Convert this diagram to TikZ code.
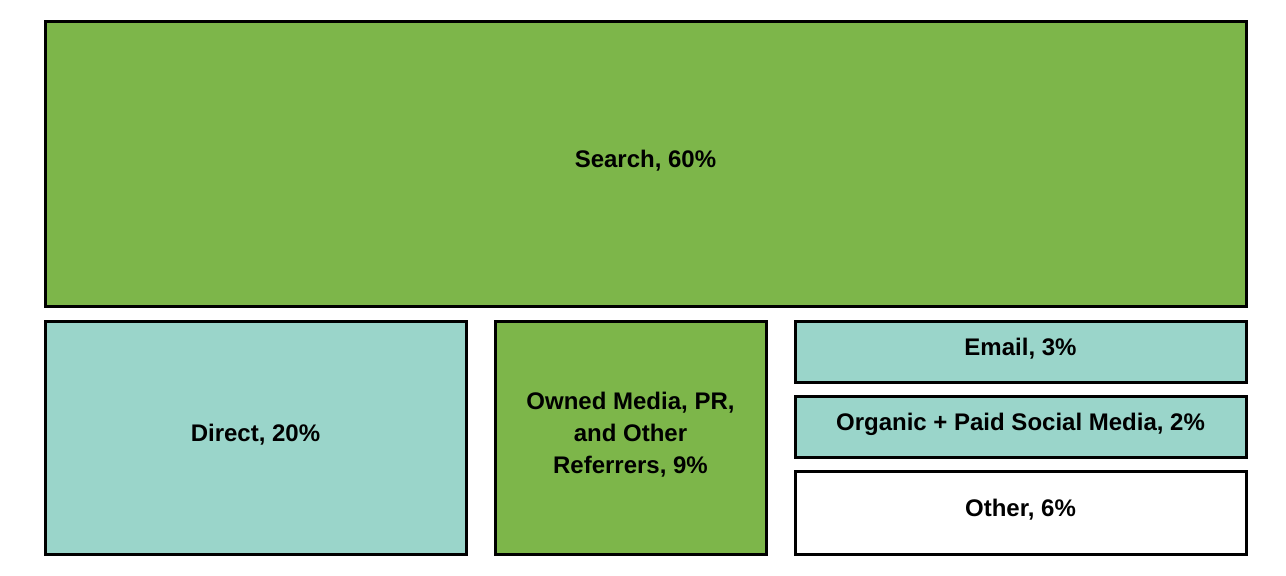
\documentclass[tikz,border=0pt]{standalone}
\usepackage{fontspec}
\setmainfont{Liberation Sans}
\definecolor{grn}{HTML}{7DB64A}
\definecolor{teal}{HTML}{9AD5CA}
\begin{document}
\begin{tikzpicture}[x=1pt,y=-1pt,
  box/.style={draw=black,line width=3pt},
  lab/.style={font=\fontsize{24}{32}\selectfont\bfseries,align=center}]
\useasboundingbox (0,0) rectangle (1286,576);
\filldraw[box,fill=grn] (45,21) rectangle (1246,306);
\node[lab] (s) at (645.5,161) {Search, 60\%};
\filldraw[box,fill=teal] (45,321) rectangle (466,554);
\node[lab] (d) at (255.5,435) {Direct, 20\%};
\filldraw[box,fill=grn] (495,321) rectangle (766,554);
\node[lab] (o) at (630.5,435) {Owned Media, PR,\\and Other\\Referrers, 9\%};
\filldraw[box,fill=teal] (795,321) rectangle (1246,382);
\node[lab] (e) at (1020.5,349) {Email, 3\%};
\filldraw[box,fill=teal] (795,396) rectangle (1246,457);
\node[lab] (g) at (1020.5,424) {Organic + Paid Social Media, 2\%};
\filldraw[box,fill=white] (795,471) rectangle (1246,554);
\node[lab] (t) at (1020.5,510) {Other, 6\%};
\end{tikzpicture}
\end{document}
